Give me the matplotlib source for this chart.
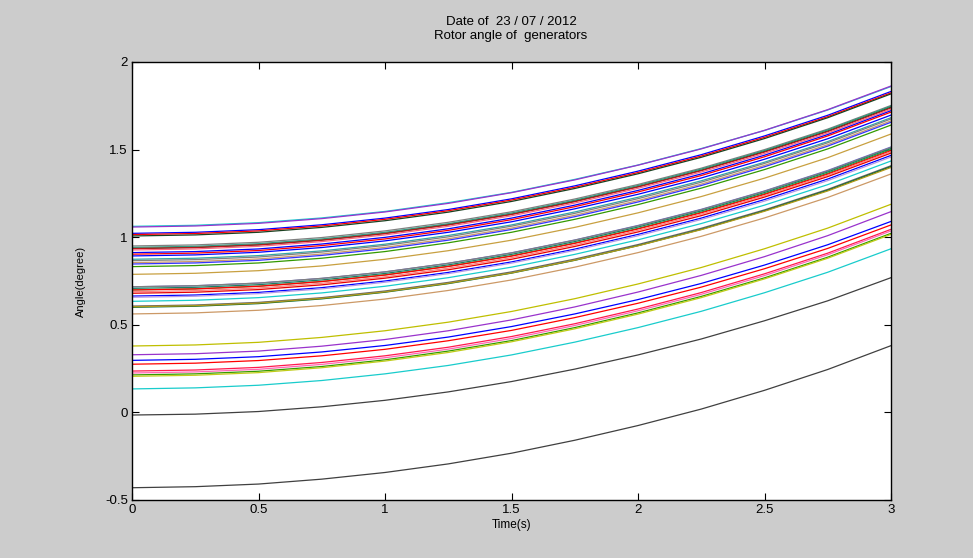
import matplotlib
matplotlib.use("Agg")
import matplotlib.pyplot as plt

# sample times (s)
t = [0, 0.25, 0.5, 0.75, 1, 1.25, 1.5, 1.75, 2, 2.25, 2.5, 2.75, 3]

# rotor angles, top bundle
angles_a = [
    [1.062, 1.068, 1.083, 1.110, 1.147, 1.197, 1.256, 1.330, 1.412, 1.506, 1.609, 1.726, 1.860],
    [1.058, 1.064, 1.079, 1.106, 1.144, 1.193, 1.254, 1.327, 1.411, 1.504, 1.610, 1.728, 1.863],
    [1.022, 1.028, 1.043, 1.071, 1.109, 1.158, 1.219, 1.293, 1.377, 1.471, 1.578, 1.696, 1.832],
    [1.015, 1.021, 1.036, 1.064, 1.102, 1.151, 1.212, 1.285, 1.369, 1.463, 1.570, 1.688, 1.824],
    [1.007, 1.013, 1.028, 1.056, 1.094, 1.143, 1.204, 1.278, 1.362, 1.456, 1.563, 1.682, 1.818],
]
colors_a = ["#19cccc", "#9933cc", "#0000ff", "#ff0000", "#1a4020"]

angles_b = [
    [0.950, 0.956, 0.971, 0.998, 1.036, 1.085, 1.145, 1.218, 1.301, 1.394, 1.500, 1.617, 1.752],
    [0.942, 0.948, 0.963, 0.990, 1.028, 1.077, 1.138, 1.211, 1.295, 1.389, 1.495, 1.613, 1.748],
    [0.935, 0.941, 0.956, 0.983, 1.021, 1.071, 1.131, 1.205, 1.288, 1.382, 1.489, 1.606, 1.742],
    [0.935, 0.941, 0.956, 0.983, 1.021, 1.070, 1.130, 1.203, 1.287, 1.380, 1.486, 1.603, 1.738],
    [0.927, 0.933, 0.948, 0.975, 1.013, 1.062, 1.122, 1.195, 1.279, 1.372, 1.478, 1.595, 1.730],
    [0.912, 0.918, 0.933, 0.961, 0.999, 1.048, 1.109, 1.183, 1.267, 1.361, 1.468, 1.586, 1.722],
    [0.903, 0.909, 0.924, 0.952, 0.990, 1.039, 1.100, 1.174, 1.258, 1.352, 1.459, 1.578, 1.714],
    [0.893, 0.899, 0.914, 0.941, 0.979, 1.028, 1.088, 1.162, 1.245, 1.338, 1.445, 1.562, 1.697],
    [0.874, 0.880, 0.895, 0.922, 0.960, 1.010, 1.070, 1.144, 1.228, 1.322, 1.428, 1.546, 1.682],
    [0.866, 0.872, 0.887, 0.915, 0.953, 1.002, 1.063, 1.136, 1.220, 1.314, 1.421, 1.539, 1.675],
    [0.855, 0.861, 0.876, 0.904, 0.942, 0.991, 1.052, 1.125, 1.209, 1.303, 1.410, 1.528, 1.664],
    [0.847, 0.853, 0.868, 0.896, 0.934, 0.983, 1.044, 1.117, 1.201, 1.295, 1.402, 1.520, 1.656],
    [0.832, 0.838, 0.853, 0.880, 0.918, 0.968, 1.028, 1.102, 1.186, 1.280, 1.386, 1.504, 1.640],
    [0.788, 0.794, 0.809, 0.836, 0.874, 0.923, 0.983, 1.056, 1.139, 1.232, 1.337, 1.454, 1.589],
]
colors_b = ["#808080", "#339980", "#006633", "#b31a1a", "#ff6680", "#0000ff",
            "#ff0000", "#0000ff", "#33a6a6", "#808080", "#cc9966", "#3333ff",
            "#339900", "#c8a040"]

angles_c = [
    [0.717, 0.723, 0.738, 0.765, 0.802, 0.851, 0.911, 0.984, 1.067, 1.159, 1.264, 1.381, 1.515],
    [0.717, 0.723, 0.738, 0.765, 0.802, 0.851, 0.910, 0.983, 1.065, 1.157, 1.262, 1.378, 1.512],
    [0.708, 0.714, 0.729, 0.756, 0.793, 0.842, 0.902, 0.975, 1.058, 1.150, 1.255, 1.372, 1.506],
    [0.699, 0.705, 0.720, 0.747, 0.785, 0.834, 0.894, 0.967, 1.050, 1.143, 1.248, 1.365, 1.500],
    [0.699, 0.705, 0.720, 0.747, 0.784, 0.833, 0.892, 0.965, 1.047, 1.139, 1.244, 1.360, 1.494],
    [0.689, 0.695, 0.710, 0.737, 0.774, 0.823, 0.883, 0.956, 1.039, 1.132, 1.237, 1.354, 1.488],
    [0.680, 0.686, 0.701, 0.728, 0.766, 0.814, 0.874, 0.947, 1.030, 1.123, 1.229, 1.346, 1.480],
    [0.664, 0.670, 0.685, 0.712, 0.750, 0.799, 0.859, 0.932, 1.016, 1.109, 1.215, 1.332, 1.467],
    [0.657, 0.663, 0.678, 0.705, 0.743, 0.792, 0.852, 0.925, 1.008, 1.101, 1.206, 1.323, 1.458],
    [0.634, 0.640, 0.655, 0.682, 0.720, 0.769, 0.829, 0.902, 0.985, 1.078, 1.183, 1.300, 1.435],
    [0.607, 0.613, 0.628, 0.655, 0.693, 0.742, 0.802, 0.875, 0.958, 1.051, 1.156, 1.273, 1.408],
    [0.600, 0.606, 0.621, 0.648, 0.686, 0.735, 0.795, 0.868, 0.952, 1.045, 1.151, 1.268, 1.403],
    [0.603, 0.609, 0.624, 0.651, 0.688, 0.737, 0.796, 0.869, 0.951, 1.043, 1.148, 1.264, 1.398],
    [0.562, 0.568, 0.583, 0.610, 0.647, 0.696, 0.756, 0.829, 0.912, 1.005, 1.110, 1.227, 1.361],
]
colors_c = ["#6666cc", "#808080", "#1a8066", "#339933", "#ff0000", "#ff8080",
            "#e60000", "#0000ff", "#b399e6", "#19cccc", "#666666", "#006633",
            "#b39919", "#cc9966"]

angles_d = [
    [0.379, 0.385, 0.400, 0.428, 0.466, 0.515, 0.576, 0.649, 0.733, 0.827, 0.934, 1.052, 1.188],
    [0.329, 0.335, 0.350, 0.378, 0.416, 0.466, 0.528, 0.602, 0.687, 0.782, 0.889, 1.009, 1.146],
    [0.297, 0.303, 0.318, 0.345, 0.382, 0.430, 0.490, 0.562, 0.644, 0.736, 0.841, 0.957, 1.090],
    [0.275, 0.281, 0.296, 0.323, 0.360, 0.409, 0.468, 0.541, 0.623, 0.715, 0.820, 0.936, 1.070],
    [0.236, 0.242, 0.257, 0.285, 0.323, 0.372, 0.433, 0.506, 0.590, 0.684, 0.791, 0.909, 1.045],
    [0.225, 0.231, 0.246, 0.274, 0.312, 0.361, 0.422, 0.496, 0.580, 0.674, 0.781, 0.900, 1.036],
    [0.214, 0.220, 0.235, 0.262, 0.300, 0.350, 0.410, 0.484, 0.568, 0.662, 0.768, 0.886, 1.022],
    [0.206, 0.212, 0.227, 0.255, 0.293, 0.342, 0.403, 0.477, 0.561, 0.655, 0.762, 0.880, 1.016],
    [0.134, 0.140, 0.155, 0.182, 0.220, 0.268, 0.328, 0.401, 0.484, 0.577, 0.683, 0.800, 0.934],
    [-0.015, -0.010, 0.005, 0.032, 0.069, 0.117, 0.176, 0.247, 0.328, 0.419, 0.523, 0.637, 0.769],
    [-0.430, -0.424, -0.409, -0.381, -0.343, -0.294, -0.233, -0.159, -0.075, 0.019, 0.126, 0.245, 0.381],
]
colors_d = ["#bfbf00", "#9933cc", "#0000ff", "#ff0000", "#ff1a4d", "#ff66b3",
            "#339900", "#c0cc19", "#19cccc", "#404040", "#404040"]

plt.rcParams['font.family'] = ['Liberation Sans', 'DejaVu Sans']

fig = plt.figure(figsize=(9.73, 5.58), dpi=100, facecolor="#cccccc")
ax = fig.add_axes([132 / 973, 1 - 500 / 558, 759 / 973, 438 / 558])
ax.set_facecolor("white")

for angles, colors in [(angles_d, colors_d), (angles_c, colors_c),
                       (angles_b, colors_b), (angles_a, colors_a)]:
    for row, c in zip(angles, colors):
        ax.plot(t, row, color=c, lw=0.9)

ax.set_xlim(0, 3)
ax.set_ylim(-0.5, 2)
ax.set_xticks([0, 0.5, 1, 1.5, 2, 2.5, 3])
ax.set_xticklabels(["0", "0.5", "1", "1.5", "2", "2.5", "3"])
ax.set_yticks([-0.5, 0, 0.5, 1, 1.5, 2])
ax.set_yticklabels(["-0.5", "0", "0.5", "1", "1.5", "2"])
ax.tick_params(direction="in", length=5, width=0.8, top=True, right=True,
               labelsize=9.5, pad=3)
for s in ax.spines.values():
    s.set_linewidth(1.0)

ax.set_xlabel("Time(s)", fontsize=8.5, labelpad=2)
ax.set_ylabel("Angle(degree)", fontsize=8, labelpad=14)

fig.text(511 / 973, 1 - 22 / 558, "Date of  23 / 07 / 2012", ha="center",
         va="center", fontsize=9.5)
fig.text(511 / 973, 1 - 36 / 558, "Rotor angle of  generators", ha="center",
         va="center", fontsize=9.5)

fig.savefig("out.png", dpi=100, facecolor=fig.get_facecolor())
